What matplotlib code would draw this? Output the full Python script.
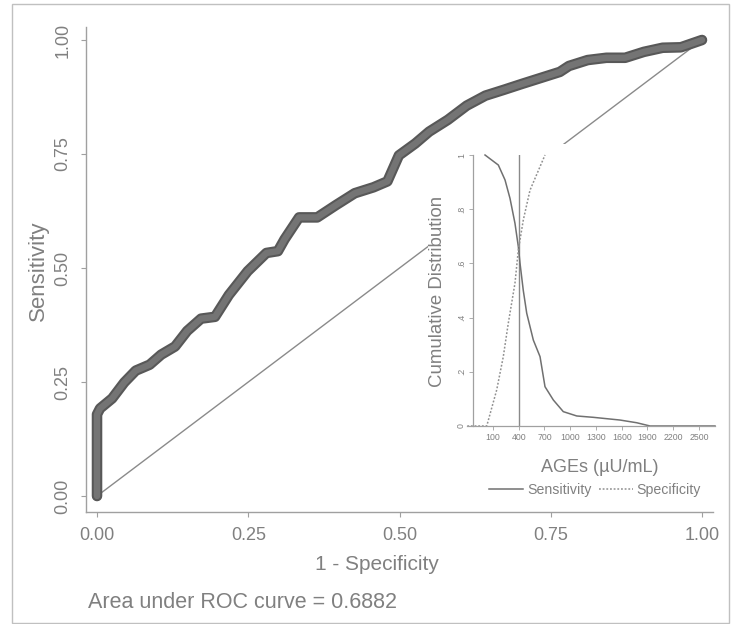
import matplotlib
matplotlib.use("Agg")
import matplotlib.pyplot as plt
import matplotlib.patheffects as pe
from matplotlib.patches import Rectangle
from matplotlib.lines import Line2D

plt.rcParams['font.family'] = ['Liberation Sans', 'DejaVu Sans']

# ---- data ----
fpr = [0.0, 0.0, 0.005, 0.025, 0.045, 0.064, 0.087, 0.106, 0.129, 0.149, 0.172,
       0.195, 0.218, 0.249, 0.280, 0.299, 0.310, 0.334, 0.364, 0.395, 0.426,
       0.457, 0.480, 0.499, 0.526, 0.549, 0.580, 0.611, 0.642, 0.673, 0.703,
       0.734, 0.765, 0.780, 0.811, 0.842, 0.873, 0.904, 0.935, 0.965, 1.0]
tpr = [0.0, 0.179, 0.192, 0.214, 0.249, 0.275, 0.288, 0.310, 0.328, 0.362, 0.389,
       0.393, 0.441, 0.493, 0.533, 0.537, 0.563, 0.611, 0.611, 0.638, 0.664,
       0.677, 0.690, 0.747, 0.773, 0.799, 0.825, 0.856, 0.878, 0.891, 0.904,
       0.917, 0.930, 0.943, 0.956, 0.961, 0.961, 0.974, 0.983, 0.984, 1.0]
auc_text = "Area under ROC curve = 0.6882"

ages_sens = [7, 162, 240, 298, 356, 395, 415, 453, 493, 570, 648, 706, 803,
             919, 1076, 1269, 1580, 1775, 1930, 2687]
sens = [1.0, 0.963, 0.908, 0.84, 0.748, 0.662, 0.60, 0.50, 0.416, 0.317, 0.256,
        0.145, 0.096, 0.053, 0.037, 0.032, 0.022, 0.012, 0.0, 0.0]
ages_spec = [-200, 27, 143, 220, 278, 356, 395, 453, 531, 706]
spec = [0.0, 0.0, 0.133, 0.256, 0.379, 0.527, 0.649, 0.76, 0.87, 1.0]
cutoff = 400
ages_ticks = [100, 400, 700, 1000, 1300, 1600, 1900, 2200, 2500]
cum_ticks = [0, 0.2, 0.4, 0.6, 0.8, 1.0]
cum_labels = ["0", ".2", ".4", ".6", ".8", "1"]
main_ticks = [0.0, 0.25, 0.5, 0.75, 1.0]
main_labels = ["0.00", "0.25", "0.50", "0.75", "1.00"]

W, H = 732, 624
txt = '#808080'
axc = '#a0a0a0'

fig = plt.figure(figsize=(W / 100, H / 100), dpi=100)
fig.patch.set_facecolor('white')

def fx(px):
    return px / W

def fy(py):
    return 1 - py / H

# ---- main ROC axes ----
ax = fig.add_axes([fx(86), fy(512), fx(713) - fx(86), fy(27) - fy(512)])
ax.set_xlim(-0.0182, 1.0182)
ax.set_ylim(-0.035, 1.0285)
for s in ['top', 'right']:
    ax.spines[s].set_visible(False)
for s in ['left', 'bottom']:
    ax.spines[s].set_color(axc)
    ax.spines[s].set_linewidth(1.0)
ax.plot([0, 1], [0, 1], color='#8a8a8a', lw=1.0, zorder=1)
ax.plot(fpr, tpr, color='#747474', lw=4.6, solid_capstyle='round',
        solid_joinstyle='round', zorder=2,
        path_effects=[pe.Stroke(linewidth=7.6, foreground='#585858'), pe.Normal()])
ax.set_xticks(main_ticks)
ax.set_xticklabels(main_labels)
ax.set_yticks(main_ticks)
ax.set_yticklabels(main_labels, rotation=90, va='center')
ax.tick_params(axis='both', direction='out', length=3.5, width=0.8, color=axc,
               labelcolor=txt, labelsize=13)
ax.tick_params(axis='x', pad=7)
ax.tick_params(axis='y', pad=7)

fig.text(fx(38), fy(271), "Sensitivity", rotation=90, ha='center', va='center',
         fontsize=16, color=txt)
fig.text(fx(377), fy(565), "1 - Specificity", ha='center', va='center',
         fontsize=15, color=txt)
fig.text(fx(88), fy(602), auc_text, ha='left', va='center', fontsize=15.5, color=txt)

# ---- white background behind inset ----
bg = fig.add_axes([fx(428), fy(505), fx(729) - fx(428), fy(144) - fy(505)])
bg.set_facecolor('white')
bg.set_axis_off()
bg.add_patch(Rectangle((0, 0), 1, 1, transform=bg.transAxes, facecolor='white',
                       edgecolor='none'))
bg.set_zorder(2)

# ---- inset axes ----
ai = fig.add_axes([fx(467), fy(426), fx(715) - fx(467), fy(155) - fy(426)])
ai.set_zorder(3)
ai.patch.set_alpha(0)
ai.set_xlim(-203, 2687)
ai.set_ylim(0, 1)
for s in ['top', 'right']:
    ai.spines[s].set_visible(False)
for s in ['left', 'bottom']:
    ai.spines[s].set_color(axc)
    ai.spines[s].set_linewidth(0.9)
ai.spines['left'].set_position(('data', -133))
ai.axvline(cutoff, color='#8a8a8a', lw=1.0)
ai.plot(ages_sens, sens, color='#707070', lw=1.1, clip_on=False)
ai.plot(ages_spec, spec, color='#909090', lw=1.1, ls=(0, (1.2, 1.2)), clip_on=False)
ai.set_xticks(ages_ticks)
ai.set_xticklabels([str(v) for v in ages_ticks])
ai.set_yticks(cum_ticks)
ai.set_yticklabels(cum_labels, rotation=90, va='center')
ai.tick_params(axis='both', direction='out', length=3, width=0.6, color=axc,
               labelcolor=txt, labelsize=6.3, pad=2)

fig.text(fx(438), fy(291), "Cumulative Distribution", rotation=90, ha='center',
         va='center', fontsize=13.4, color=txt, zorder=4)
fig.text(fx(600), fy(467), "AGEs (\u00b5U/mL)", ha='center', va='center',
         fontsize=13, color=txt, zorder=4)

handles = [Line2D([], [], color='#707070', lw=1.1),
           Line2D([], [], color='#909090', lw=1.1, ls=(0, (1.2, 1.2)))]
leg = ai.legend(handles, ["Sensitivity", "Specificity"], ncol=2, frameon=False,
                loc='center', bbox_to_anchor=(fx(595), fy(490)),
                bbox_transform=fig.transFigure, fontsize=10.2,
                handlelength=2.4, handletextpad=0.3, columnspacing=0.5,
                borderpad=0)
for t in leg.get_texts():
    t.set_color(txt)

# ---- outer border ----
fig.add_artist(Rectangle((fx(12), fy(623)), fx(729) - fx(12), fy(4) - fy(623),
                         transform=fig.transFigure, facecolor='none',
                         edgecolor='#c0c0c0', lw=1.0, zorder=10))

fig.savefig("out.png", dpi=100, facecolor='white')
